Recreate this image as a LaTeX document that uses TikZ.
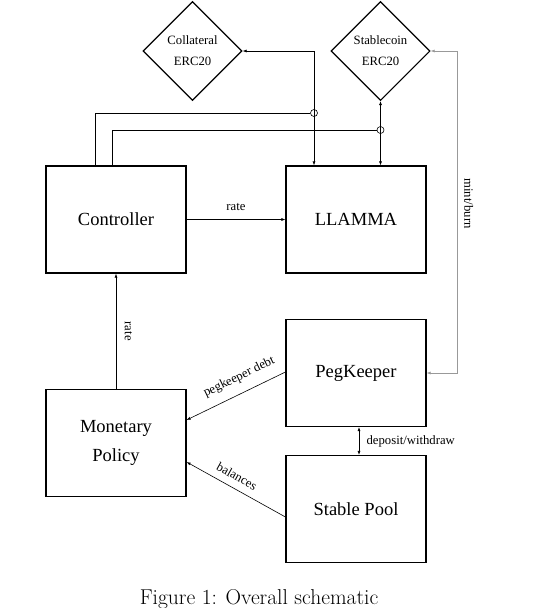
\documentclass[tikz,border=0pt]{standalone}
\usepackage{fontspec}
\newfontfamily\serif{Liberation Serif}
\usetikzlibrary{shapes.geometric,arrows.meta}

\tikzset{
  block/.style={draw, thick, line width=1.1pt, minimum width=140pt, minimum height=107pt,
    align=center, font=\serif\fontsize{18.5}{29}\selectfont},
  token/.style={draw, diamond, line width=1.1pt, aspect=1, minimum size=99pt, inner sep=0pt,
    align=center, font=\serif\fontsize{12.7}{21}\selectfont},
  lbl/.style={font=\serif\fontsize{12.7}{15}\selectfont},
  link/.style={line width=0.6pt},
  hop/.style={circle, draw, line width=0.6pt, minimum size=7pt, inner sep=0pt},
}

\begin{document}
\begin{tikzpicture}[x=1pt, y=-1pt, >={Latex[length=4pt,width=3pt]}]
  \useasboundingbox (0,0) rectangle (536,608);

  % tokens
  \node[token] (coll) at (192.5,51) {Collateral\\ERC20};
  \node[token] (stab) at (380.5,51) {Stablecoin\\ERC20};

  % blocks
  \node[block] (ctrl)   at (116,219.5) {Controller};
  \node[block] (llamma) at (356,219.5) {LLAMMA};
  \node[block] (pk)     at (356,373)   {PegKeeper};
  \node[block] (mp)     at (116,443)   {Monetary\\Policy};
  \node[block] (pool)   at (356,509)   {Stable Pool};

  % hops where the controller lines meet the token lines
  \node[hop] (hopA) at (314,113) {};
  \node[hop] (hopB) at (380.5,130) {};

  % token links
  \draw[link, <->] ([xshift=-42pt]llamma.north) |- (coll.east);
  \draw[link, <->] (stab.south) -- (stab.south |- llamma.north);
  \draw[link] ([xshift=-21pt]ctrl.north) |- (hopA);
  \draw[link] ([xshift=-4pt]ctrl.north) |- (hopB);
  \draw[link, <->, gray!80] (stab.east) -- ++(27,0)
    |- node[pos=0.237, lbl, black, rotate=-90, above=3pt] {mint/burn} (pk.east);

  % rates and data
  \draw[link, ->] (ctrl) -- node[lbl, above=5pt] {rate} (llamma);
  \draw[link, ->] (mp) -- node[lbl, rotate=-90, above=5pt] {rate} (ctrl);
  \draw[link, ->] ([yshift=1pt]pk.west) -- node[pos=0.4, lbl, sloped, above=6pt] {pegkeeper debt} ([yshift=23pt]mp.east);
  \draw[link, ->] ([yshift=-8pt]pool.west) -- node[pos=0.55, lbl, sloped, above=4pt] {balances} ([yshift=-19pt]mp.east);
  \draw[link, <->] ([xshift=3pt]pk.south) -- node[lbl, right, xshift=4pt] {deposit/withdraw} ([xshift=3pt]pool.north);

  % caption
  \node[font=\fontsize{21.5}{25}\selectfont] (cap) at (259,599) {Figure 1: Overall schematic};
\end{tikzpicture}
\end{document}
